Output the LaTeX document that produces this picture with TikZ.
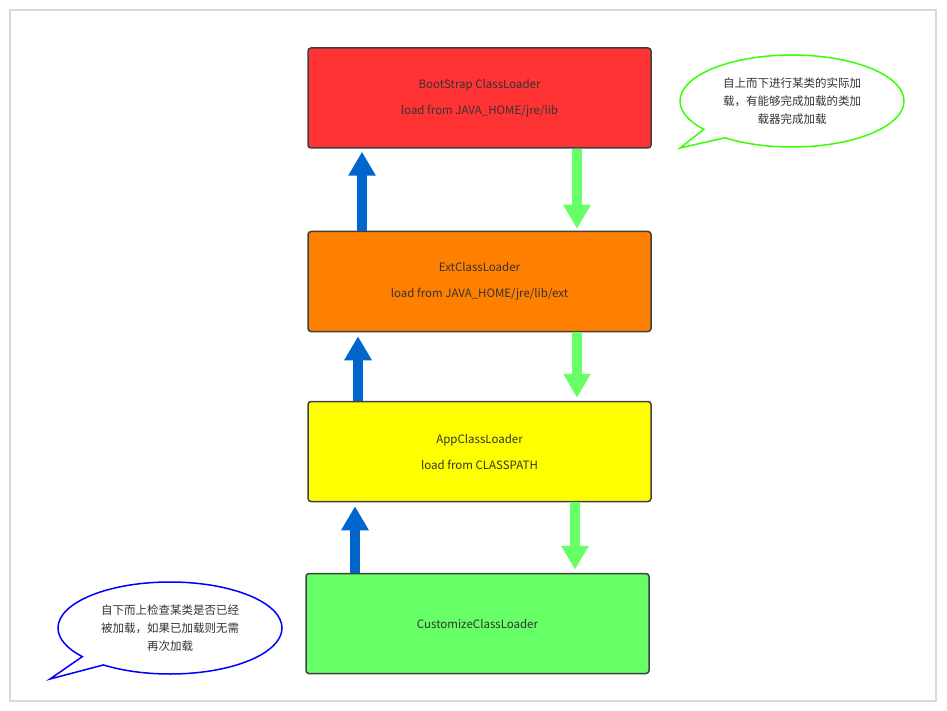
\documentclass[tikz,border=0pt]{standalone}
\usepackage{fontspec}
\setmainfont{Noto Sans CJK SC}
\usetikzlibrary{arrows.meta,shapes.callouts,positioning}
\definecolor{bootred}{HTML}{FF3333}
\definecolor{extorange}{HTML}{FF8000}
\definecolor{appyellow}{HTML}{FFFF00}
\definecolor{custgreen}{HTML}{66FF66}
\definecolor{upblue}{HTML}{0066CC}
\definecolor{downgreen}{HTML}{66FF66}
\definecolor{txtgray}{HTML}{333333}
\begin{document}
\begin{tikzpicture}[x=1pt,y=-1pt]
    \tikzstyle{loader}=[draw=black!75, line width=1.5pt, rounded corners=3pt, minimum width=343pt, minimum height=100pt, align=center, text=txtgray, font=\fontsize{11.5}{26}\selectfont]
    \tikzstyle{up}=[line width=10pt, draw=upblue, -{Triangle[length=24pt,width=26pt]}]
    \tikzstyle{down}=[line width=10pt, draw=downgreen, -{Triangle[length=24pt,width=26pt]}]
    \tikzstyle{note}=[ellipse callout, line width=1.5pt, fill=white, minimum width=224pt, minimum height=92pt, inner sep=0pt, align=center, text=txtgray, font=\fontsize{11.5}{18}\selectfont]
    \useasboundingbox (0,0) rectangle (947,711);
    \fill[white] (0,0) rectangle (947,711);
    \draw[black!15, line width=1.5pt] (10,10) rectangle (936,701);
    \node[loader,fill=bootred] (boot) at (479.5,98) {BootStrap ClassLoader\\load from JAVA\_HOME/jre/lib};
    \node[loader,fill=extorange] (ext) at (479.5,281.5) {ExtClassLoader\\load from JAVA\_HOME/jre/lib/ext};
    \node[loader,fill=appyellow] (app) at (479.5,451.5) {AppClassLoader\\load from CLASSPATH};
    \node[loader,fill=custgreen] (cust) at (477.5,623.5) {CustomizeClassLoader};
    \draw[up] (ext.north -| 362,0) -- ([yshift=-3pt]boot.south -| 362,0);
    \draw[up] (app.north -| 358,0) -- ([yshift=-4pt]ext.south -| 358,0);
    \draw[up] (cust.north -| 355,0) -- ([yshift=-4pt]app.south -| 355,0);
    \draw[down] (boot.south -| 577,0) -- ([yshift=2pt]ext.north -| 577,0);
    \draw[down] (ext.south -| 577,0) -- ([yshift=3pt]app.north -| 577,0);
    \draw[down] (app.south -| 575,0) -- ([yshift=3pt]cust.north -| 575,0);
    \node[note, draw=green!70!lime, callout absolute pointer={(680,148)}] (topdown) at (792,101) {自上而下进行某类的实际加\\载，有能够完成加载的类加\\载器完成加载};
    \node[note, draw=blue, callout absolute pointer={(50,679)}] (bottomup) at (170,628) {自下而上检查某类是否已经\\被加载，如果已加载则无需\\再次加载};
\end{tikzpicture}
\end{document}
